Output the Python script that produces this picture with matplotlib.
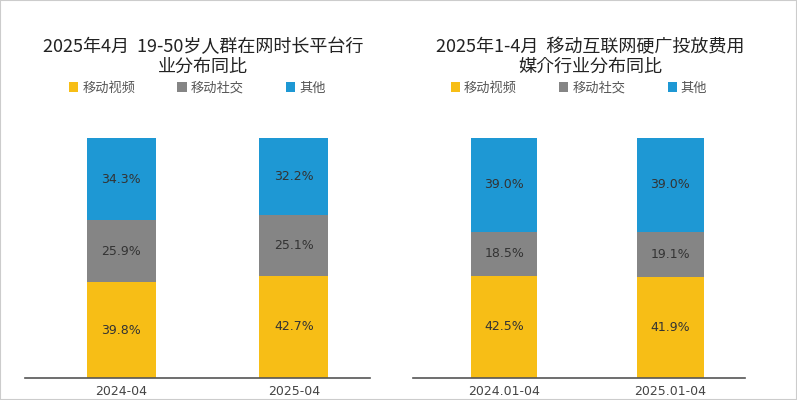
import matplotlib.pyplot as plt
from matplotlib.patches import Rectangle

plt.rcParams['font.family'] = ['Noto Sans CJK JP', 'Noto Sans CJK SC', 'DejaVu Sans']

series = ['移动视频', '移动社交', '其他']
colors = ['#F7BE16', '#858585', '#1E98D4']

left_title = '2025年4月  19-50岁人群在网时长平台行\n业分布同比'
left_cats = ['2024-04', '2025-04']
left_vals = [[39.8, 42.7], [25.9, 25.1], [34.3, 32.2]]

right_title = '2025年1-4月  移动互联网硬广投放费用\n媒介行业分布同比'
right_cats = ['2024.01-04', '2025.01-04']
right_vals = [[42.5, 41.9], [18.5, 19.1], [39.0, 39.0]]

fig = plt.figure(figsize=(7.97, 4.0), dpi=100)
fig.patches.append(Rectangle((0, 0), 1, 1, transform=fig.transFigure,
                             fill=False, edgecolor='#cccccc', linewidth=1.5))


def draw(rect, cats, vals, title, xlim, tx):
    ax = fig.add_axes(rect)
    bottom = [0] * len(cats)
    for i, s in enumerate(series):
        ax.bar(range(len(cats)), vals[i], 0.4, bottom=bottom, color=colors[i], label=s)
        for j, v in enumerate(vals[i]):
            ax.text(j, bottom[j] + v / 2, f'{v}%', ha='center', va='center',
                    fontsize=9, color='#333333', family='DejaVu Sans')
        bottom = [b + v for b, v in zip(bottom, vals[i])]
    ax.set_ylim(0, 100)
    ax.set_xlim(*xlim)
    ax.set_xticks(range(len(cats)))
    ax.set_xticklabels(cats, fontsize=9, color='#444444', family='DejaVu Sans')
    ax.tick_params(length=0, pad=5)
    ax.set_yticks([])
    for sp in ['top', 'right', 'left']:
        ax.spines[sp].set_visible(False)
    ax.spines['bottom'].set_color('#555555')
    ax.spines['bottom'].set_linewidth(1.2)
    fig.text(tx, 0.857, title, ha='center', va='center', fontsize=13,
             color='#222222', linespacing=1.15)
    ax.legend(loc='center', bbox_to_anchor=(0.5, (0.78 - 0.055) / 0.6),
              ncol=3, frameon=False, fontsize=9.5, handlelength=0.7,
              handleheight=0.7, handletextpad=0.3, columnspacing=3.2,
              labelcolor='#555555')


draw([0.031, 0.055, 0.433, 0.6], left_cats, left_vals, left_title, (-0.56, 1.44), 0.255)
draw([0.518, 0.055, 0.417, 0.6], right_cats, right_vals, right_title, (-0.55, 1.45), 0.74)

fig.savefig('out.png', dpi=100)
